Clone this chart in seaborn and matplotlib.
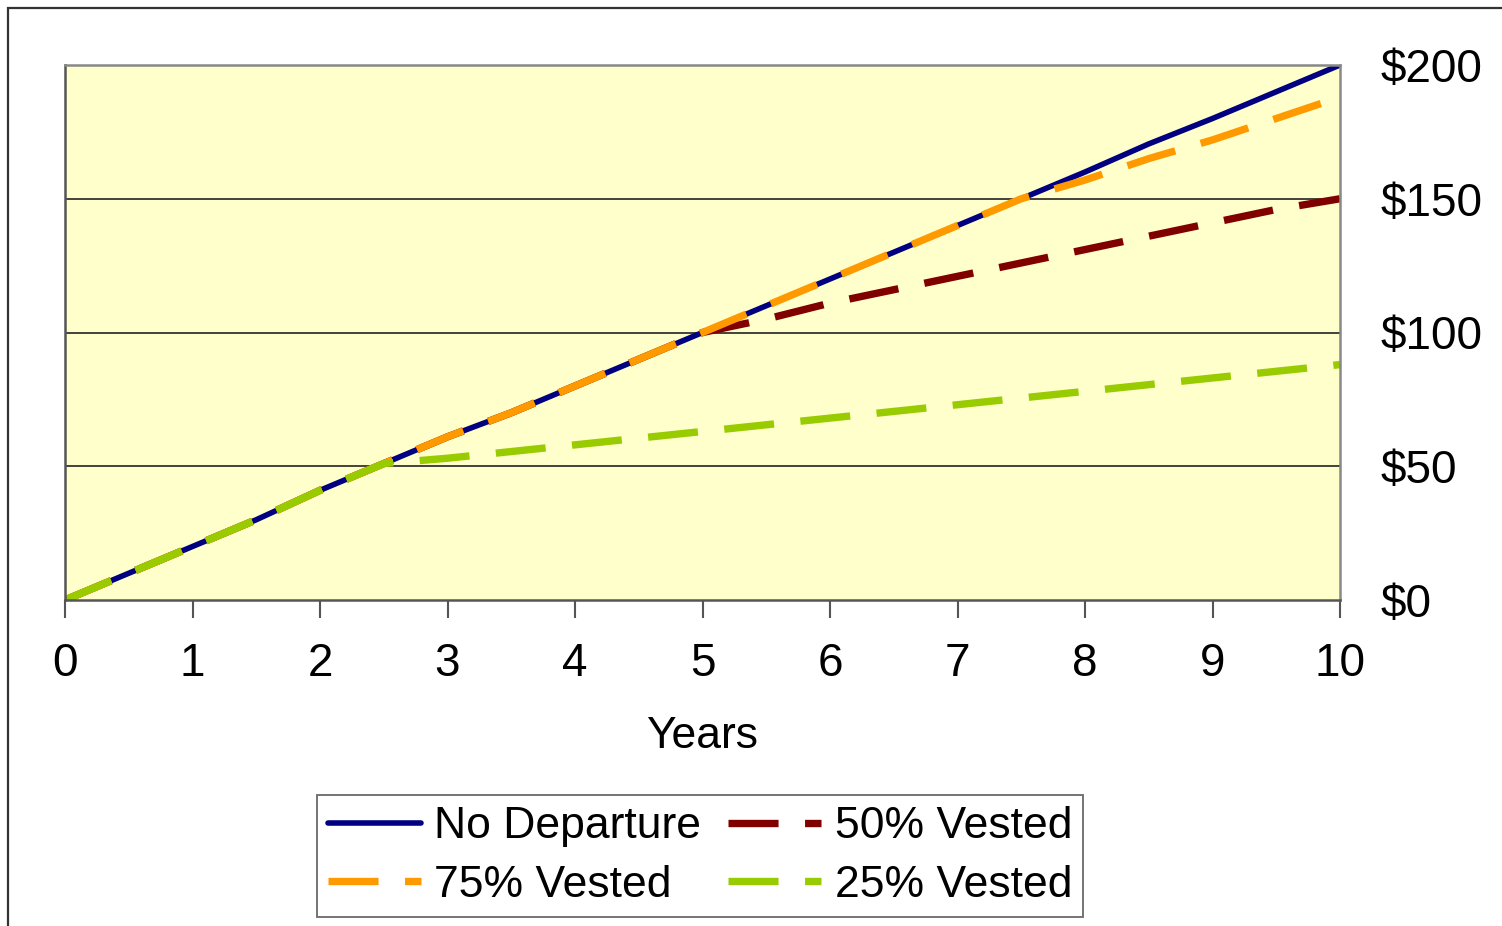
import matplotlib
matplotlib.use("Agg")
import matplotlib.pyplot as plt
import seaborn as sns
import pandas as pd
from matplotlib.patches import Rectangle

# Half-year steps over ten years
years_all = [0, 0.5, 1, 1.5, 2, 2.5, 3, 3.5, 4, 4.5, 5,
             5.5, 6, 6.5, 7, 7.5, 8, 8.5, 9, 9.5, 10]
no_departure = [0, 10, 20, 30, 41, 51, 61, 70, 80, 90, 100,
                110, 120, 130, 140, 150, 160, 170.5, 180, 190, 200]

years_75 = [0, 0.5, 1, 1.5, 2, 2.5, 3, 3.5, 4, 4.5, 5,
            5.5, 6, 6.5, 7, 7.5, 8, 8.5, 9, 9.5, 10]
vested_75 = [0, 10, 20, 30, 41, 51, 61, 70, 80, 90, 100,
             110, 120, 130, 140, 150, 157, 165, 172, 180, 188]

years_50 = [0, 0.5, 1, 1.5, 2, 2.5, 3, 3.5, 4, 4.5, 5,
            5.5, 6, 6.5, 7, 7.5, 8, 8.5, 9, 9.5, 10]
vested_50 = [0, 10, 20, 30, 41, 51, 61, 70, 80, 90, 100,
             105, 111, 116, 121, 126, 131, 136, 141, 146, 150]

years_25 = [0, 0.5, 1, 1.5, 2, 2.5, 3, 3.5, 4, 4.5, 5,
            5.5, 6, 6.5, 7, 7.5, 8, 8.5, 9, 9.5, 10]
vested_25 = [0, 10, 20, 30, 41, 51, 53, 55.5, 58, 60.5, 63,
             65.5, 68, 70.5, 73, 75.5, 78, 80.5, 83, 85.5, 88]

x_ticks = list(range(0, 11))
y_ticks = [0, 50, 100, 150, 200]
y_tick_labels = ["$0", "$50", "$100", "$150", "$200"]

sns.set_theme(style="white")
plt.rcParams["font.family"] = ["Liberation Sans", "DejaVu Sans"]
plt.rcParams["text.color"] = "black"
plt.rcParams["axes.labelcolor"] = "black"
plt.rcParams["xtick.color"] = "black"
plt.rcParams["ytick.color"] = "black"

fig = plt.figure(figsize=(15.02, 9.26), dpi=100)
ax = fig.add_axes([65 / 1502, 326 / 926, 1275 / 1502, 535 / 926])
ax.set_facecolor("#FFFFCC")

# Outer chart frame (top and left edges visible)
fig.patches.append(Rectangle((8 / 1502, -0.05), 1.2, (926 - 8) / 926 + 0.05,
                             transform=fig.transFigure, fill=False,
                             edgecolor="#333333", linewidth=1.6))

dash = (0, (6.8, 3.6))
series = [
    ("No Departure", years_all, no_departure, "#000080", "-", 4.0),
    ("50% Vested", years_50, vested_50, "#800000", dash, 5.3),
    ("75% Vested", years_75, vested_75, "#FF9900", dash, 5.3),
    ("25% Vested", years_25, vested_25, "#99CC00", dash, 5.3),
]

handles = {}
for name, xs, ys, color, ls, lw in series:
    df = pd.DataFrame({"Years": xs, "Value": ys})
    sns.lineplot(data=df, x="Years", y="Value", ax=ax, color=color,
                 linewidth=lw, linestyle=ls, legend=False,
                 solid_capstyle="round", dash_capstyle="butt")
    handles[name] = ax.lines[-1]

ax.set_xlim(0, 10)
ax.set_ylim(0, 200)
ax.set_xticks(x_ticks)
ax.set_xticklabels([str(t) for t in x_ticks], fontsize=33)
ax.set_yticks(y_ticks)
ax.set_yticklabels(y_tick_labels, fontsize=33)
ax.yaxis.tick_right()
ax.tick_params(axis="y", length=0, pad=29, labelcolor="black")
ax.tick_params(axis="x", length=13, width=1.5, color="#555555",
               direction="out", pad=17, bottom=True, labelcolor="black")
ax.set_xlabel("Years", fontsize=32, labelpad=22, color="black")
ax.set_ylabel("")

ax.grid(False)
for yv in [50, 100, 150]:
    ax.axhline(yv, color="#222222", linewidth=1.2, zorder=0.5)

for side in ["top", "right"]:
    ax.spines[side].set_color("#888888")
    ax.spines[side].set_linewidth(1.8)
for side in ["bottom", "left"]:
    ax.spines[side].set_color("#555555")
    ax.spines[side].set_linewidth(1.8)

order = ["No Departure", "75% Vested", "50% Vested", "25% Vested"]
leg = fig.legend([handles[n] for n in order], order, ncol=2,
                 loc="center", bbox_to_anchor=(700 / 1502, 1 - 856 / 926),
                 fontsize=32, frameon=True, fancybox=False, shadow=False,
                 handlelength=2.1, handletextpad=0.3, columnspacing=0.6,
                 borderpad=0.25, labelspacing=0.39)
leg.get_frame().set_edgecolor("#444444")
leg.get_frame().set_linewidth(1.3)
for t in leg.get_texts():
    t.set_color("black")

fig.savefig("out.png", dpi=100, facecolor="white")
